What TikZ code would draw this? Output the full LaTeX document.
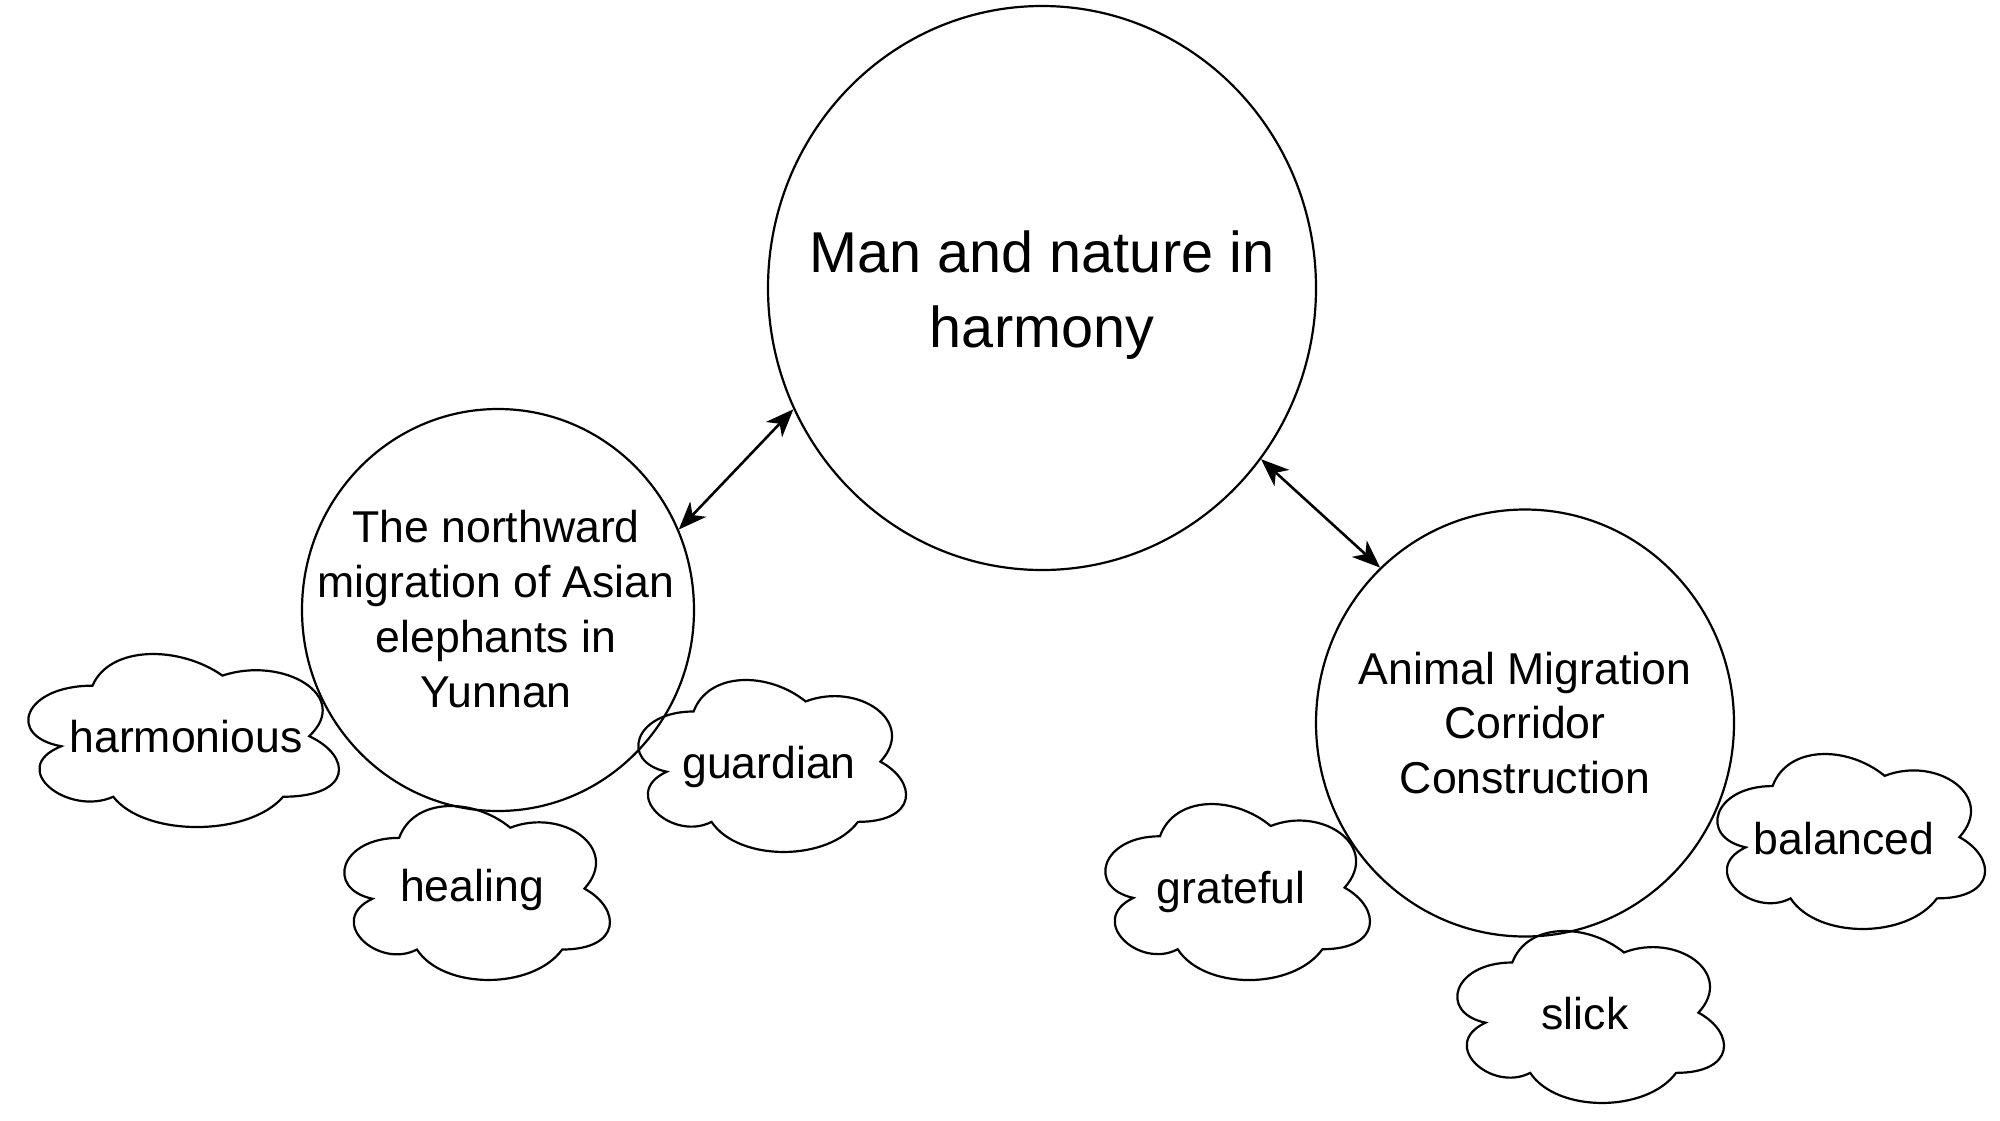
\documentclass[tikz,border=0pt]{standalone}
\usepackage{fontspec}
\setmainfont{Liberation Sans}
\usetikzlibrary{shapes.geometric,arrows.meta}
\tikzset{
  ring/.style={draw=black, line width=1.1pt, ellipse, inner sep=0pt},
  cloudline/.style={draw=black, line width=1.1pt},
  bigtext/.style={align=center, font=\fontsize{28.8}{37.6}\selectfont},
  midtext/.style={align=center, font=\fontsize{22.3}{27.4}\selectfont},
  cloudtext/.style={font=\fontsize{22.3}{27.4}\selectfont, text height=0.72em, text depth=0.21em, inner sep=0pt},
  link/.style={line width=1.3pt, {Stealth[length=14pt,width=11pt,inset=4pt]}-{Stealth[length=14pt,width=11pt,inset=4pt]}}
}
\newcommand{\mycloud}[4]{%
  \begin{scope}[shift={(#1,#2)},xscale=#3,yscale=#4]
    \draw[cloudline] (0.25,0.25) .. controls (0.05,0.25) and (0,0.5) .. (0.16,0.55)
      .. controls (0,0.66) and (0.18,0.9) .. (0.31,0.8)
      .. controls (0.4,1) and (0.7,1) .. (0.8,0.8)
      .. controls (1,0.8) and (1,0.6) .. (0.875,0.5)
      .. controls (1,0.3) and (0.8,0.1) .. (0.625,0.2)
      .. controls (0.5,0.05) and (0.3,0.05) .. (0.25,0.25) -- cycle;
  \end{scope}}
\begin{document}
\begin{tikzpicture}[x=0.5pt,y=-0.5pt]
\useasboundingbox (0,0) rectangle (2000,1120);
% circles
\node[ring, minimum width=274pt, minimum height=282pt] (big) at (1042,288) {};
\node[ring, minimum width=196pt, minimum height=201pt] (left) at (498,610) {};
\node[ring, minimum width=209pt, minimum height=213.5pt] (right) at (1525,723) {};
\node[bigtext] (bigt) at (1042,295) {Man and nature in\\harmony};
\node[midtext] (leftt) at (496,609) {The northward\\migration of Asian\\elephants in\\Yunnan};
\node[midtext] (rightt) at (1525,723) {Animal Migration\\Corridor\\Construction};
% connectors
\draw[link] (big.206.3) -- (left.24.3);
\draw[link] (big.-38.6) -- (right.133.9);
% clouds
\mycloud{5.8}{635.2}{346.7}{201.9}
\mycloud{325}{787.1}{296.5}{203}
\mycloud{618.9}{661.3}{298.8}{200.7}
\mycloud{1086.1}{784.9}{295.4}{205.4}
\mycloud{1697.9}{735}{298.8}{204.2}
\mycloud{1437.9}{912.3}{297.7}{200.7}
\node[cloudtext] (c1) at (186,747) {harmonious};
\node[cloudtext] (c2) at (472,896) {healing};
\node[cloudtext] (c3) at (769,773) {guardian};
\node[cloudtext] (c4) at (1231,898) {grateful};
\node[cloudtext] (c5) at (1844,849) {balanced};
\node[cloudtext] (c6) at (1585,1024) {slick};
\end{tikzpicture}
\end{document}
